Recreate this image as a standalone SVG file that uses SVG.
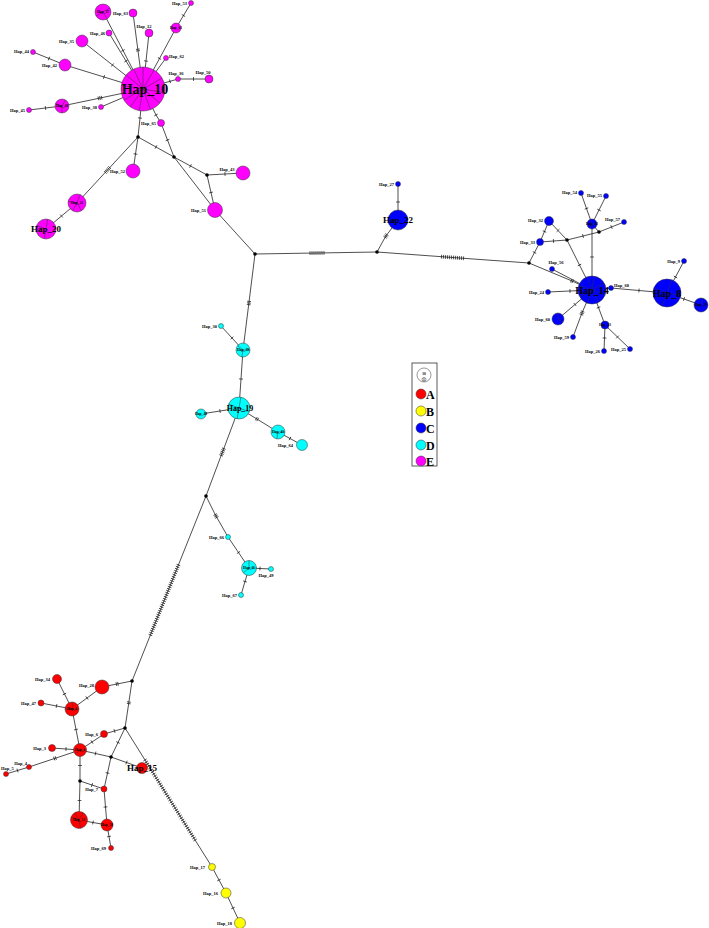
<svg xmlns="http://www.w3.org/2000/svg" width="709" height="928" viewBox="0 0 709 928">
<defs>
<marker id="t" markerWidth="6" markerHeight="6" refX="3" refY="3" orient="auto" markerUnits="userSpaceOnUse"><path d="M3,1.1 V4.9" stroke="#111" stroke-width="0.7"/></marker>
<style>
.e polyline,.e line{stroke:#222;stroke-width:0.8;fill:none;marker-mid:url(#t)}
.n circle{stroke:#333;stroke-width:0.5}
.m{fill:#FF00FF}.b{fill:#0000FF}.c{fill:#00FFFF}.r{fill:#FF0000}.y{fill:#FFFF00}
.j{fill:#000;stroke:none}
.ray{stroke:#333;stroke-width:0.5}
text{font-family:"Liberation Serif","Times New Roman",serif;font-weight:bold;fill:#000}
.l{font-size:4.5px;text-anchor:end}
.lm{font-size:4.5px;text-anchor:middle}
.ls{font-size:4.5px;text-anchor:start}
.li{font-size:3.6px;text-anchor:middle}
.big{text-anchor:middle}
.leg{font-size:12px}
</style>
</defs>
<rect width="709" height="928" fill="#fff"/>
<g id="edges" class="e">
<polyline points="143,89 123,50.5 103,12"/>
<polyline points="143,89 138,50.8 137.8,49.2 133,13"/>
<polyline points="143,89 146,61 149,33"/>
<polyline points="143,89 159.5,58.5 176,28"/>
<polyline points="176,28 183.5,15.5 191,3"/>
<polyline points="143,89 154.5,73.5 166,58"/>
<polyline points="143,89 170,81.3 178,79"/>
<polyline points="178,79 193.5,79 209,79"/>
<polyline points="143,89 126,61 109,33"/>
<polyline points="143,89 112.5,65 82,41"/>
<polyline points="143,89 104,77 65,65"/>
<polyline points="65,65 49,58.5 33,52"/>
<polyline points="143,89 101.6,97.7 100,98 98.4,98.4 62,106"/>
<polyline points="62,106 45.5,108 29,110"/>
<line x1="143" y1="89" x2="101" y2="107"/>
<polyline points="143,89 156,115 161,123"/>
<polyline points="161,123 167.5,140 174,157"/>
<polyline points="143,89 140,118 138,137"/>
<polyline points="138,137 135.5,154 133,171"/>
<polyline points="138,137 109.7,167.65 108.6,168.8 107.5,170 106.4,171.2 105.3,172.35 77,203"/>
<polyline points="77,203 61.5,216 46,229"/>
<polyline points="138,137 156,147 174,157"/>
<polyline points="174,157 190.5,166 207,175"/>
<polyline points="207,175 225,174 243,173"/>
<polyline points="207,175 211,192.5 215,210"/>
<line x1="174" y1="157" x2="215" y2="210"/>
<line x1="215" y1="210" x2="255" y2="254"/>
<polyline points="255,254 310,253.1 312,253.1 314,253.1 316,253 318,253 320,253 322,252.9 324,252.9 377,252"/>
<polyline points="377,252 385.1,237.3 386,236 386.9,234.7 398,220"/>
<polyline points="398,220 398,202 398,184"/>
<polyline points="377,252 441.5,256.7 443.5,256.8 445.5,257 447.5,257.1 449.5,257.3 451.5,257.4 453.5,257.5 455.5,257.7 457.5,257.8 459.5,258 461.5,258.1 463.5,258.3 529,263"/>
<polyline points="529,263 571.3,280.7 572.7,281.3 592,290"/>
<polyline points="529,263 534.5,252.5 540,242"/>
<polyline points="540,242 544.5,231.5 549,221"/>
<polyline points="549,221 558,230.5 567,240"/>
<polyline points="540,242 553.5,241 567,240"/>
<polyline points="567,240 579.5,265 592,290"/>
<polyline points="567,240 583,236 599,232"/>
<polyline points="599,232 611.5,227 624,222"/>
<line x1="599" y1="232" x2="592" y2="224"/>
<polyline points="592,224 592,257 592,290"/>
<polyline points="592,224 586.5,208.5 581,193"/>
<polyline points="592,224 599,210 606,196"/>
<line x1="552" y1="269" x2="592" y2="290"/>
<line x1="592" y1="290" x2="611" y2="288"/>
<polyline points="611,288 639,290.5 667,293"/>
<polyline points="667,293 675.5,277 684,261"/>
<polyline points="667,293 684,299 701,305"/>
<polyline points="592,290 570,291 548,292"/>
<polyline points="592,290 575,304.5 558,319"/>
<polyline points="592,290 582.6,311.5 582,313 581.4,314.5 573,337"/>
<polyline points="592,290 598.5,307.5 605,325"/>
<polyline points="605,325 604.5,338 604,351"/>
<polyline points="605,325 617.5,337 630,349"/>
<polyline points="255,254 249.1,301.4 248.9,303 248.7,304.6 243,350"/>
<polyline points="221,326 232,338 243,350"/>
<polyline points="243,350 241,379 239,408"/>
<polyline points="239,408 220,411 201,414"/>
<polyline points="239,408 256.3,418.7 257.7,419.5 278,432"/>
<polyline points="278,432 290,438.5 302,445"/>
<polyline points="239,408 223.8,448.6 223.1,450.3 222.5,452 221.9,453.7 221.2,455.4 206,496"/>
<polyline points="206,496 215.2,514.6 216,516 216.8,517.4 228,537"/>
<polyline points="228,537 238.5,552.5 249,568"/>
<polyline points="249,568 260,568.5 271,569"/>
<polyline points="249,568 245,581.5 241,595"/>
<polyline points="206,496 178.4,565 177.6,567 176.8,569 176,571 175.2,573 174.4,575 173.6,577 172.8,579 172,581 171.2,583 170.4,585 169.6,587 168.8,589 168,591 167.2,593 166.4,595 165.6,597 164.8,599 164,601 163.2,603 162.4,605 161.6,607 160.8,609 160,611 159.2,613 158.4,615 157.6,617 156.8,619 156,621 155.2,623 154.4,625 153.6,627 152.8,629 152,631 151.2,633 150.4,635 132,681"/>
<polyline points="132,681 118,683.8 116.4,684.1 102,687"/>
<polyline points="132,681 128.9,702 128.7,703.6 125,728"/>
<polyline points="125,728 114.5,731 104,734"/>
<polyline points="125,728 118,742.5 111,757"/>
<polyline points="125,728 145,760 146.3,762 147.5,764 148.8,766 150,768 151.3,770 152.5,772 153.8,774 155,776 156.3,778 157.6,780 158.8,782 160.1,784 161.3,786 162.6,788 163.8,790 165.1,792 166.3,794 167.6,796 168.8,798 170.1,800 171.3,802 172.6,804 173.8,806 175.1,808 176.3,810 177.6,812 178.8,814 180.1,816 181.3,818 182.6,820 183.8,822 185.1,824 186.3,826 187.6,828 188.8,830 190.1,832 191.4,834 192.6,836 193.9,838 195.1,840 212,867"/>
<polyline points="212,867 219,880 226,893"/>
<polyline points="226,893 233,908 240,923"/>
<polyline points="102,687 87,698 72,709"/>
<polyline points="57,679 64.5,694 72,709"/>
<polyline points="41,703 56.5,706 72,709"/>
<polyline points="72,709 76,729.5 80,750"/>
<polyline points="80,750 66,749 52,748"/>
<polyline points="80,750 92,742 104,734"/>
<polyline points="80,750 95.5,753.5 111,757"/>
<polyline points="111,757 126.5,762.5 142,768"/>
<polyline points="80,750 55.8,758.1 54.2,758.6 29,767"/>
<polyline points="29,767 17.5,770.5 6,774"/>
<polyline points="80,750 80,765.5 80,781"/>
<polyline points="80,781 79.5,800.5 79,820"/>
<polyline points="80,781 92,785 104,789"/>
<polyline points="111,757 107.5,773 104,789"/>
<polyline points="104,789 105.5,807 107,825"/>
<polyline points="79,820 93,822.5 107,825"/>
<polyline points="107,825 109,836.5 111,848"/>
</g>

<g id="junctions">
<circle class="j" cx="138" cy="137" r="1.8"/>
<circle class="j" cx="174" cy="157" r="1.8"/>
<circle class="j" cx="207" cy="175" r="1.8"/>
<circle class="j" cx="255" cy="254" r="1.8"/>
<circle class="j" cx="377" cy="252" r="1.8"/>
<circle class="j" cx="529" cy="263" r="1.8"/>
<circle class="j" cx="567" cy="240" r="1.8"/>
<circle class="j" cx="599" cy="232" r="1.8"/>
<circle class="j" cx="206" cy="496" r="1.8"/>
<circle class="j" cx="132" cy="681" r="1.8"/>
<circle class="j" cx="125" cy="728" r="1.8"/>
<circle class="j" cx="111" cy="757" r="1.8"/>
<circle class="j" cx="80" cy="781" r="1.8"/>
</g>

<g id="Hap_10" class="n"><circle class="m" cx="143" cy="89" r="22"/>
<path class="ray" d="M143,89L143,67M143,89L154,69.9M143,89L162.1,78M143,89L164.7,92.8M143,89L159.9,103.1M143,89L150.5,109.7M143,89L139.2,110.7M143,89L130.4,107M143,89L124,100M143,89L121.3,85.2M143,89L126.1,74.9M143,89L133.7,69.1"/>
<text class="big" x="145" y="94" font-size="14">Hap_10</text></g>
<g id="Hap_37" class="n"><circle class="m" cx="103" cy="12" r="8"/><path class="ray" d="M103,12L107,18.9M103,12L96.1,16M103,12L109.9,8"/><text class="li" x="103" y="13.3">Hap_37</text></g>
<g id="Hap_63" class="n"><circle class="m" cx="133" cy="13" r="4"/><text class="l" x="128" y="15">Hap_63</text></g>
<g id="Hap_12" class="n"><circle class="m" cx="149" cy="33" r="4"/><text class="lm" x="144" y="28">Hap_12</text></g>
<g id="Hap_53" class="n"><circle class="m" cx="191" cy="3" r="2.5"/><text class="l" x="187" y="4.5">Hap_53</text></g>
<g id="Hap_61" class="n"><circle class="m" cx="176" cy="28" r="5"/><text class="li" x="176" y="29.3">Hap_61</text></g>
<g id="Hap_62" class="n"><circle class="m" cx="166" cy="58" r="2.5"/><text class="ls" x="169" y="58">Hap_62</text></g>
<g id="Hap_36" class="n"><circle class="m" cx="178" cy="79" r="2.5"/><text class="lm" x="176" y="75">Hap_36</text></g>
<g id="Hap_50" class="n"><circle class="m" cx="209" cy="79" r="4"/><text class="lm" x="203" y="74">Hap_50</text></g>
<g id="Hap_46" class="n"><circle class="m" cx="109" cy="33" r="3"/><text class="l" x="105" y="35">Hap_46</text></g>
<g id="Hap_35" class="n"><circle class="m" cx="82" cy="41" r="6"/><text class="l" x="74" y="42.5">Hap_35</text></g>
<g id="Hap_44" class="n"><circle class="m" cx="33" cy="52" r="2.5"/><text class="l" x="29" y="53">Hap_44</text></g>
<g id="Hap_42" class="n"><circle class="m" cx="65" cy="65" r="6"/><text class="l" x="57" y="67">Hap_42</text></g>
<g id="Hap_40" class="n"><circle class="m" cx="62" cy="106" r="7"/><path class="ray" d="M62,106L65.5,99.9M62,106L62,113M62,106L55.4,103.6"/><text class="li" x="62" y="107.3">Hap_40</text></g>
<g id="Hap_45" class="n"><circle class="m" cx="29" cy="110" r="2.5"/><text class="l" x="25" y="111.5">Hap_45</text></g>
<g id="Hap_38" class="n"><circle class="m" cx="101" cy="107" r="2.5"/><text class="l" x="97" y="109">Hap_38</text></g>
<g id="Hap_65" class="n"><circle class="m" cx="161" cy="123" r="3.5"/><text class="l" x="156" y="125">Hap_65</text></g>
<g id="Hap_52" class="n"><circle class="m" cx="133" cy="171" r="7"/><text class="l" x="125" y="173">Hap_52</text></g>
<g id="Hap_43" class="n"><circle class="m" cx="243" cy="173" r="7"/><text class="lm" x="227" y="171">Hap_43</text></g>
<g id="Hap_51" class="n"><circle class="m" cx="215" cy="210" r="7.5"/><text class="l" x="206" y="212">Hap_51</text></g>
<g id="Hap_21" class="n"><circle class="m" cx="77" cy="203" r="9"/><path class="ray" d="M77,203L80.1,194.5M77,203L81.5,210.8M77,203L72.5,210.8M77,203L68.1,201.4"/><text class="li" x="77" y="204.3">Hap_21</text></g>
<g id="Hap_20" class="n"><circle class="m" cx="46" cy="229" r="10"/><path class="ray" d="M46,229L47.7,219.2M46,229L44.3,238.8M46,229L36.6,225.6"/><text class="big" x="46" y="232" font-size="9">Hap_20</text></g>

<g id="Hap_22" class="n"><circle class="b" cx="398" cy="220" r="10"/><text class="big" x="398" y="223" font-size="9">Hap_22</text></g>
<g id="Hap_27" class="n"><circle class="b" cx="398" cy="184" r="2.5"/><text class="l" x="394" y="185.5">Hap_27</text></g>
<g id="Hap_54" class="n"><circle class="b" cx="581" cy="193" r="2.5"/><text class="l" x="577" y="194">Hap_54</text></g>
<g id="Hap_55" class="n"><circle class="b" cx="606" cy="196" r="2.5"/><text class="l" x="602" y="197">Hap_55</text></g>
<g id="Hap_32" class="n"><circle class="b" cx="549" cy="221" r="4.5"/><text class="l" x="543" y="222">Hap_32</text></g>
<g id="Hap_33" class="n"><circle class="b" cx="540" cy="242" r="3.5"/><text class="l" x="535" y="243.5">Hap_33</text></g>
<g id="Hap_31" class="n"><circle class="b" cx="592" cy="224" r="5"/><path class="ray" d="M592,224L597,224M592,224L589.5,228.3M592,224L589.5,219.7"/><text class="li" x="592" y="225.3">Hap_31</text></g>
<g id="Hap_57" class="n"><circle class="b" cx="624" cy="222" r="2.5"/><text class="l" x="620" y="221">Hap_57</text></g>
<g id="Hap_56" class="n"><circle class="b" cx="552" cy="269" r="2.5"/><text class="lm" x="556" y="264">Hap_56</text></g>
<g id="Hap_14" class="n"><circle class="b" cx="592" cy="290" r="14"/>
<path class="ray" d="M592,290L594.4,276.2M592,290L604.1,283M592,290L605.2,294.8M592,290L599,302.1M592,290L587.2,303.2M592,290L579.9,297M592,290L578.8,285.2M592,290L587.2,276.8"/>
<text class="big" x="592" y="293.5" font-size="10">Hap_14</text></g>
<g id="Hap_68" class="n"><circle class="b" cx="611" cy="288" r="2.5"/><text class="ls" x="614" y="287">Hap_68</text></g>
<g id="Hap_8" class="n"><circle class="b" cx="667" cy="293" r="14"/><path class="ray" d="M667,293L671.8,279.8M667,293L680.8,295.4M667,293L662.2,306.2M667,293L653.8,288.2"/><text class="big" x="667" y="296.5" font-size="10">Hap_8</text></g>
<g id="Hap_9" class="n"><circle class="b" cx="684" cy="261" r="2.5"/><text class="l" x="680" y="263">Hap_9</text></g>
<g id="Hap_29" class="n"><circle class="b" cx="701" cy="305" r="7"/><path class="ray" d="M701,305L694,305M701,305L703,298.3"/><text class="li" x="701" y="306.3">Hap_29</text></g>
<g id="Hap_24" class="n"><circle class="b" cx="548" cy="292" r="2.5"/><text class="l" x="544" y="294">Hap_24</text></g>
<g id="Hap_60" class="n"><circle class="b" cx="558" cy="319" r="6"/><path class="ray" d="M558,319L558,313M558,319L563.2,322"/><text class="l" x="550" y="321">Hap_60</text></g>
<g id="Hap_59" class="n"><circle class="b" cx="573" cy="337" r="2.5"/><text class="l" x="569" y="339">Hap_59</text></g>
<g id="Hap_23" class="n"><circle class="b" cx="605" cy="325" r="4"/><text class="li" x="605" y="326.2">Hap_23</text></g>
<g id="Hap_26" class="n"><circle class="b" cx="604" cy="351" r="2.5"/><text class="l" x="600" y="353">Hap_26</text></g>
<g id="Hap_25" class="n"><circle class="b" cx="630" cy="349" r="2.5"/><text class="l" x="626" y="351">Hap_25</text></g>

<g id="Hap_39" class="n"><circle class="c" cx="243" cy="350" r="7"/><path class="ray" d="M243,350L250,350M243,350L241.8,356.9M243,350L237.6,345.5"/><text class="li" x="243" y="351.3">Hap_39</text></g>
<g id="Hap_30" class="n"><circle class="c" cx="221" cy="326" r="2.5"/><text class="l" x="217" y="328">Hap_30</text></g>
<g id="Hap_19" class="n"><circle class="c" cx="239" cy="408" r="11"/><path class="ray" d="M239,408L240.9,397.2M239,408L249.3,411.8M239,408L237.1,418.8M239,408L228.7,404.2"/><text class="big" x="240" y="411" font-size="8">Hap_19</text></g>
<g id="Hap_48" class="n"><circle class="c" cx="201" cy="414" r="5"/><text class="li" x="201" y="415.3">Hap_48</text></g>
<g id="Hap_41" class="n"><circle class="c" cx="278" cy="432" r="7"/><path class="ray" d="M278,432L285,432M278,432L276.8,438.9"/><text class="li" x="278" y="433.3">Hap_41</text></g>
<g id="Hap_64" class="n"><circle class="c" cx="302" cy="445" r="5.5"/><text class="l" x="293" y="447">Hap_64</text></g>
<g id="Hap_66" class="n"><circle class="c" cx="228" cy="537" r="2.5"/><text class="l" x="224" y="539">Hap_66</text></g>
<g id="Hap_11" class="n"><circle class="c" cx="249" cy="568" r="7.5"/><path class="ray" d="M249,568L249,560.5M249,568L256.5,568M249,568L243.3,572.8"/><text class="li" x="249" y="569.3">Hap_11</text></g>
<g id="Hap_49" class="n"><circle class="c" cx="271" cy="569" r="2.5"/><text class="lm" x="266" y="577">Hap_49</text></g>
<g id="Hap_67" class="n"><circle class="c" cx="241" cy="595" r="2.5"/><text class="l" x="237" y="597">Hap_67</text></g>

<g id="Hap_34" class="n"><circle class="r" cx="57" cy="679" r="4.5"/><text class="l" x="50" y="681">Hap_34</text></g>
<g id="Hap_28" class="n"><circle class="r" cx="102" cy="687" r="7"/><text class="l" x="94" y="687">Hap_28</text></g>
<g id="Hap_47" class="n"><circle class="r" cx="41" cy="703" r="3"/><text class="l" x="36" y="705">Hap_47</text></g>
<g id="Hap_2" class="n"><circle class="r" cx="72" cy="709" r="7"/><path class="ray" d="M72,709L79,709M72,709L65,709M72,709L73.2,702.1"/><text class="li" x="72" y="710.3">Hap_2</text></g>
<g id="Hap_6" class="n"><circle class="r" cx="104" cy="734" r="3.5"/><text class="l" x="98" y="735.5">Hap_6</text></g>
<g id="Hap_3" class="n"><circle class="r" cx="52" cy="748" r="3.5"/><text class="l" x="46" y="750">Hap_3</text></g>
<g id="Hap_1" class="n"><circle class="r" cx="80" cy="750" r="6.5"/><path class="ray" d="M80,750L86.5,750M80,750L75,754.2"/><text class="li" x="80" y="751.3">Hap_1</text></g>
<g id="Hap_4" class="n"><circle class="r" cx="29" cy="767" r="2.5"/><text class="l" x="27" y="764.5">Hap_4</text></g>
<g id="Hap_5" class="n"><circle class="r" cx="6" cy="774" r="2.5"/><text class="ls" x="1" y="770">Hap_5</text></g>
<g id="Hap_15" class="n"><circle class="r" cx="142" cy="768" r="5.5"/><text class="big" x="142" y="771" font-size="9">Hap_15</text></g>
<g id="Hap_7" class="n"><circle class="r" cx="104" cy="789" r="3"/><text class="l" x="98" y="791">Hap_7</text></g>
<g id="Hap_13" class="n"><circle class="r" cx="79" cy="820" r="8.5"/><path class="ray" d="M79,820L83.3,812.6M79,820L80.5,828.4M79,820L71,817.1M79,820L74.8,812.6"/><text class="li" x="79" y="821.3">Hap_13</text></g>
<g id="Hap_58" class="n"><circle class="r" cx="107" cy="825" r="6"/><text class="li" x="107" y="826.3">Hap_58</text></g>
<g id="Hap_69" class="n"><circle class="r" cx="111" cy="848" r="2.5"/><text class="l" x="106" y="850">Hap_69</text></g>

<g id="Hap_17" class="n"><circle class="y" cx="212" cy="867" r="3.5"/><text class="l" x="205" y="869">Hap_17</text></g>
<g id="Hap_16" class="n"><circle class="y" cx="226" cy="893" r="5"/><text class="l" x="218" y="895">Hap_16</text></g>
<g id="Hap_18" class="n"><circle class="y" cx="240" cy="923" r="5.5"/><text class="l" x="232" y="925">Hap_18</text></g>

<g id="legend" class="n">
<rect x="412" y="363" width="25" height="103" fill="#fff" stroke="#333" stroke-width="0.8"/>
<circle cx="424" cy="375" r="7" fill="#fff"/>
<circle cx="424" cy="379.5" r="2" fill="#fff"/>
<text class="li" x="424" y="375">10</text>
<text class="li" x="424" y="380.8" font-size="2.5">1</text>
<circle class="r" cx="421" cy="394" r="5"/><text class="leg" x="426" y="398.5">A</text>
<circle class="y" cx="421" cy="411" r="5"/><text class="leg" x="426" y="415.5">B</text>
<circle class="b" cx="421" cy="428" r="5"/><text class="leg" x="426" y="432.5">C</text>
<circle class="c" cx="421" cy="445" r="5"/><text class="leg" x="426" y="449.5">D</text>
<circle class="m" cx="421" cy="461" r="5"/><text class="leg" x="426" y="465.5">E</text>
</g>
</svg>
